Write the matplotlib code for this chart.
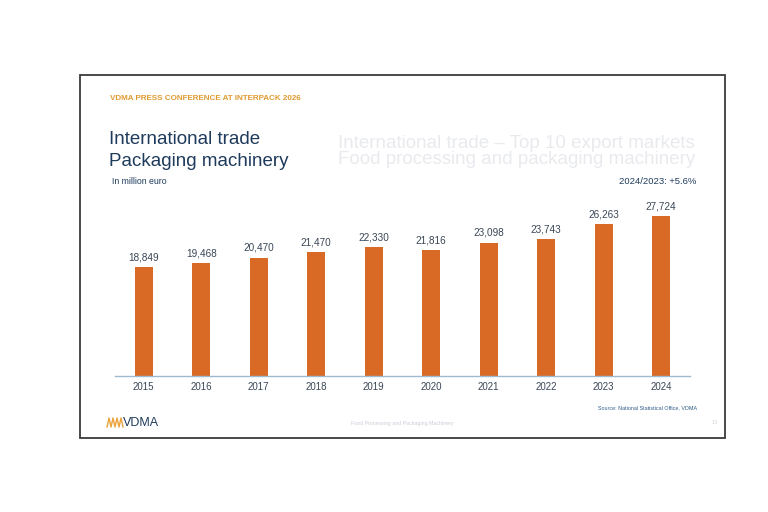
import matplotlib.pyplot as plt
from matplotlib.patches import Rectangle

plt.rcParams['font.family'] = ['Liberation Sans', 'DejaVu Sans']

# Export data, packaging machinery (million euro)
years = ['2015', '2016', '2017', '2018', '2019', '2020', '2021', '2022', '2023', '2024']
values = [18849, 19468, 20470, 21470, 22330, 21816, 23098, 23743, 26263, 27724]

bar_color = '#D96A26'
navy = '#1F3B5C'
label_color = '#3A4656'

fig = plt.figure(figsize=(7.68, 5.12), dpi=100)
fig.patch.set_facecolor('white')

# slide frame
fig.patches.append(Rectangle((80 / 768, 1 - 438 / 512), 645 / 768, 363 / 512,
                             transform=fig.transFigure, fill=False,
                             edgecolor='#3a3a3a', linewidth=1.3))

ax = fig.add_axes([115 / 768, 1 - 375.5 / 512, 575 / 768, 175.5 / 512])
x = range(len(years))
bars = ax.bar(x, values, width=0.32, color=bar_color)
ax.set_xlim(-0.5, 9.5)
ax.set_ylim(0, 30500)
ax.set_yticks([])
ax.set_xticks(list(x))
ax.set_xticklabels(years, fontsize=7, color=label_color)
ax.tick_params(axis='x', length=0, pad=4.5)
for s in ['top', 'right', 'left']:
    ax.spines[s].set_visible(False)
ax.spines['bottom'].set_color('#9DBBD0')
ax.spines['bottom'].set_linewidth(1.0)
ax.set_facecolor('none')

for b, v in zip(bars, values):
    ax.annotate(f'{v:,}', (b.get_x() + b.get_width() / 2, v),
                xytext=(0, 3.5), textcoords='offset points',
                ha='center', va='bottom', fontsize=7.2, color=label_color)

def fx(px):
    return px / 768

def fy(py):
    return 1 - py / 512

# faint show-through from the scanned page
ghost = '#E9EAEE'
fig.text(fx(338), fy(143), 'International trade \u2013 Top 10 export markets', fontsize=13.5,
         color=ghost, va='center', zorder=0)
fig.text(fx(338), fy(160), 'Food processing and packaging machinery', fontsize=13.5,
         color=ghost, va='center', zorder=0)

# header and titles
fig.text(fx(110), fy(98), 'VDMA PRESS CONFERENCE AT INTERPACK 2026', fontsize=5.8,
         color='#E09A30', fontweight='bold', va='center')
fig.text(fx(109), fy(140), 'International trade', fontsize=13.5, color=navy, va='center')
fig.text(fx(109), fy(162), 'Packaging machinery', fontsize=13.5, color=navy, va='center')
fig.text(fx(112), fy(182), 'In million euro', fontsize=6.3, color=navy, va='center')
fig.text(fx(696), fy(182), '2024/2023: +5.6%', fontsize=6.8, color=navy, va='center', ha='right')

# footer
fig.text(fx(697), fy(408), 'Source: National Statistical Office, VDMA', fontsize=3.9,
         color='#2F5D8A', va='center', ha='right')
fig.text(fx(402), fy(423), 'Food Processing and Packaging Machinery', fontsize=3.8,
         color='#C9CED6', va='center', ha='center')
fig.text(fx(718), fy(423), '13', fontsize=4, color='#D0D4DA', va='center', ha='right')

# logo: zigzag mark + VDMA
zig_x = [107, 109, 111, 113, 115, 117, 119, 121, 123]
zig_y = [427, 418, 427, 418, 427, 418, 427, 418, 427]
fig.add_artist(plt.Line2D([fx(v) for v in zig_x], [fy(v) for v in zig_y],
                          transform=fig.transFigure, color='#EBA23A', linewidth=1.0))
fig.text(fx(123), fy(423), 'VDMA', fontsize=9, color=navy, va='center')

fig.savefig('out.png', dpi=100)
